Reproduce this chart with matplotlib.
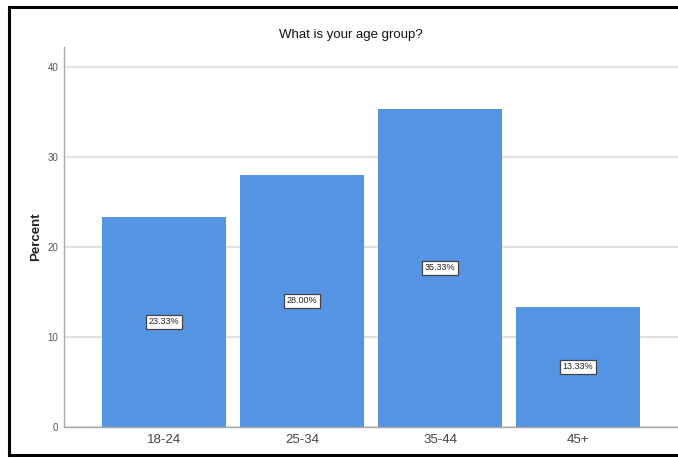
import matplotlib.pyplot as plt
from matplotlib.lines import Line2D

# age group distribution (percent of respondents)
age_groups = ["18-24", "25-34", "35-44", "45+"]
percents = [23.33, 28.00, 35.33, 13.33]
y_ticks = [0, 10, 20, 30, 40]

plt.rcParams['font.family'] = ['Liberation Sans Narrow', 'Liberation Sans', 'DejaVu Sans']

fig = plt.figure(figsize=(6.78, 4.58), dpi=100)
ax = fig.add_axes([64 / 678, 1 - 427 / 458, 1 - 64 / 678, (427 - 47) / 458])

x = range(len(age_groups))
ax.bar(x, percents, width=0.9, color='#5594E3', zorder=2)

for xi, p in zip(x, percents):
    ax.text(xi, p / 2, f"{p:.2f}%", ha='center', va='center', fontsize=6.5,
            color='#222222', zorder=3,
            bbox=dict(boxstyle='square,pad=0.25', facecolor='white',
                      edgecolor='#444444', linewidth=0.9))

ax.set_xlim(-0.725, 3.725)
ax.set_ylim(0, 42.2)
ax.set_yticks(y_ticks)
ax.set_xticks(list(x))
ax.set_xticklabels(age_groups)
ax.yaxis.grid(True, color='#E2E2E2', linewidth=1.5, zorder=0)
ax.set_axisbelow(True)

ax.tick_params(axis='y', length=0, labelsize=7, labelcolor='#555555', pad=4)
ax.tick_params(axis='x', length=0, labelsize=9.5, labelcolor='#444444', pad=5)
for side in ('top', 'right'):
    ax.spines[side].set_visible(False)
for side in ('left', 'bottom'):
    ax.spines[side].set_color('#A8A8A8')
    ax.spines[side].set_linewidth(1.0)

ax.set_ylabel("Percent", fontsize=9.5, fontweight='bold', color='#222222', labelpad=4)
fig.text(351 / 678, 1 - 35 / 458, "What is your age group?", ha='center', va='center',
         fontsize=9.5, color='#111111')

# frame around the chart (cropped on the right)
frame = dict(color='black', linewidth=2.2, transform=fig.transFigure)
fig.add_artist(Line2D([9 / 678, 9 / 678], [1 - 7 / 458, 1 - 455 / 458], **frame))
fig.add_artist(Line2D([9 / 678, 1], [1 - 7 / 458, 1 - 7 / 458], **frame))
fig.add_artist(Line2D([9 / 678, 1], [1 - 455 / 458, 1 - 455 / 458], **frame))

fig.savefig("out.png", dpi=100)
